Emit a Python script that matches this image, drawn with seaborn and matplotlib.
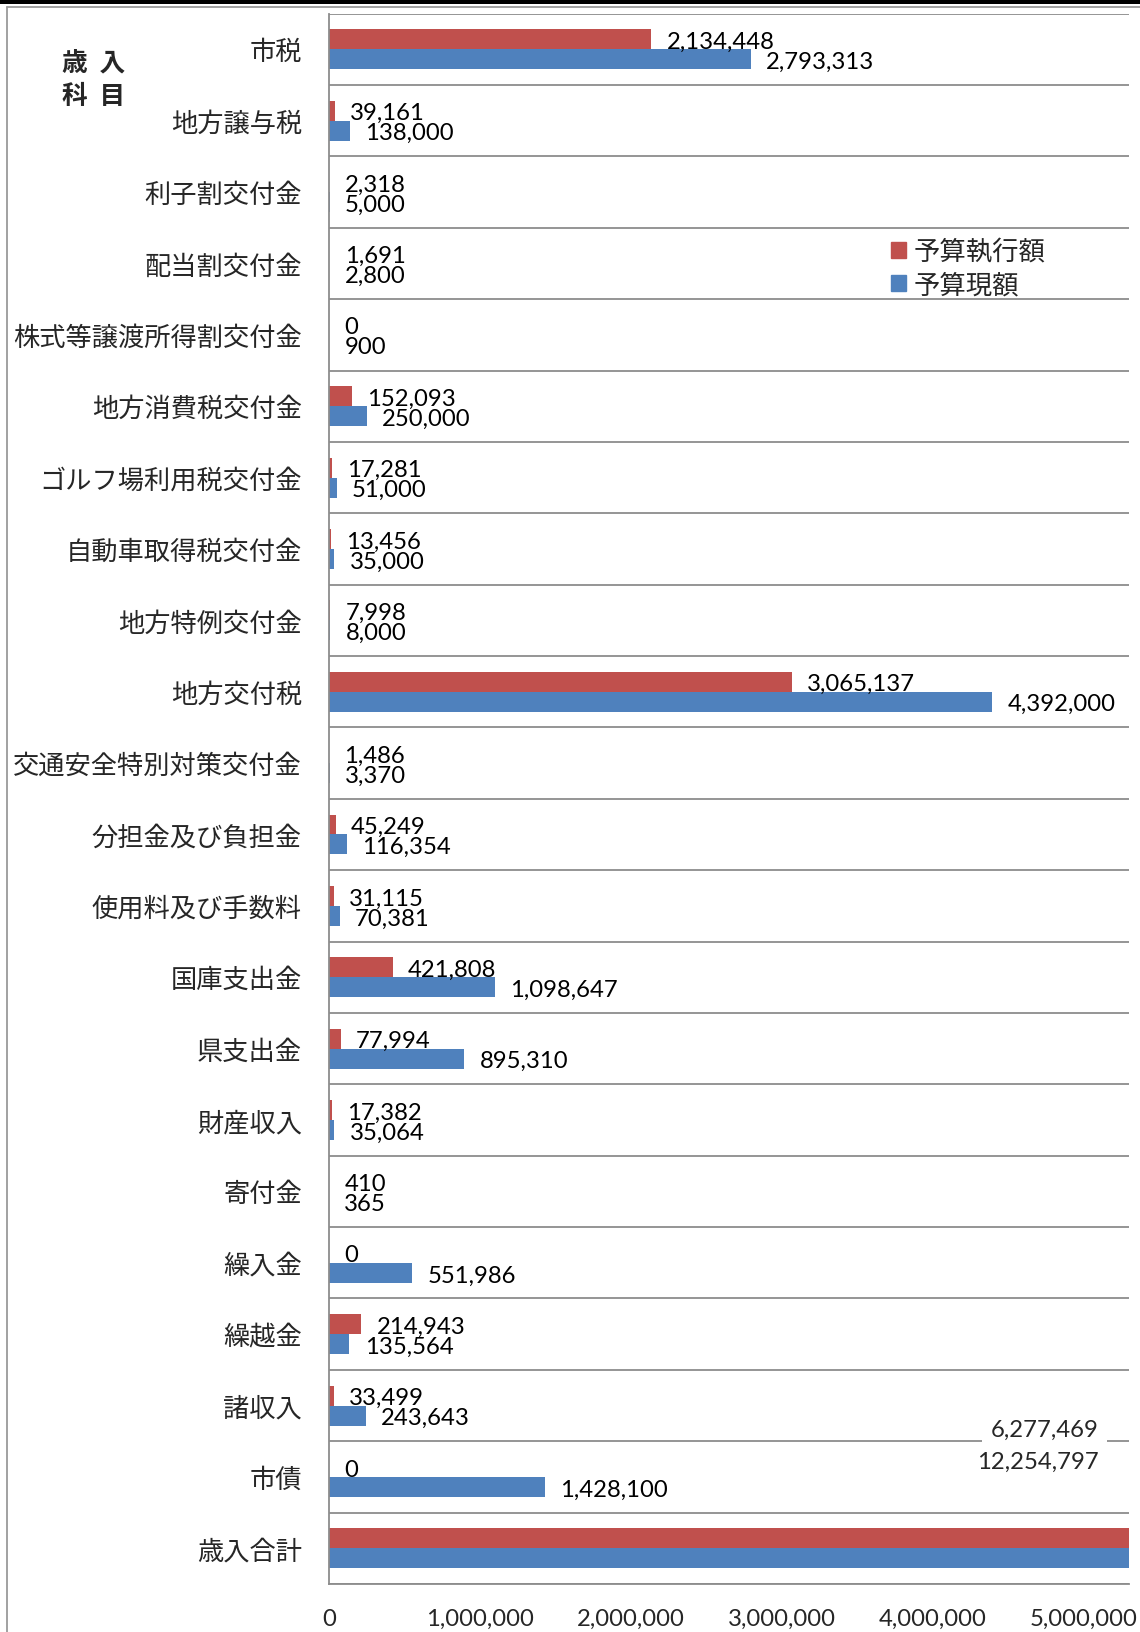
import matplotlib
matplotlib.use("Agg")
import numpy as np
import pandas as pd
import matplotlib.pyplot as plt
import matplotlib.transforms as mtransforms
from matplotlib.lines import Line2D
from matplotlib.patches import Rectangle
import seaborn as sns

# data
categories = ["市税", "地方譲与税", "利子割交付金", "配当割交付金", "株式等譲渡所得割交付金",
              "地方消費税交付金", "ゴルフ場利用税交付金", "自動車取得税交付金", "地方特例交付金",
              "地方交付税", "交通安全特別対策交付金", "分担金及び負担金", "使用料及び手数料",
              "国庫支出金", "県支出金", "財産収入", "寄付金", "繰入金", "繰越金", "諸収入",
              "市債", "歳入合計"]
executed = [2134448, 39161, 2318, 1691, 0, 152093, 17281, 13456, 7998, 3065137, 1486,
            45249, 31115, 421808, 77994, 17382, 410, 0, 214943, 33499, 0, 6277469]
budget = [2793313, 138000, 5000, 2800, 900, 250000, 51000, 35000, 8000, 4392000, 3370,
          116354, 70381, 1098647, 895310, 35064, 365, 551986, 135564, 243643, 1428100, 12254797]
series = ["予算執行額", "予算現額"]
colors = ["#C0504D", "#4F81BD"]
xticks = [0, 1000000, 2000000, 3000000, 4000000, 5000000]
x_max = 5300000

df = pd.DataFrame({
    "科目": categories * 2,
    "区分": [series[0]] * len(categories) + [series[1]] * len(categories),
    "金額": executed + budget,
})

sns.set_style("white")
plt.rcParams["font.family"] = ["Lato", "Noto Sans CJK JP", "DejaVu Sans"]

W, H = 1140, 1633
fig = plt.figure(figsize=(W / 100, H / 100), dpi=100)
ax = fig.add_axes([329 / W, 1 - 1585 / H, 800 / W, (1585 - 14.6) / H])

sns.barplot(data=df, y="科目", x="金額", hue="区分", hue_order=series, order=categories,
            palette=colors, orient="h", width=0.56, saturation=1, linewidth=0,
            legend=False, ax=ax)

ax.set_xlim(0, x_max)
ax.set_ylim(len(categories) - 0.5, -0.5)
ax.set_xlabel("")
ax.set_ylabel("")

# separators between categories
ax.set_yticks(np.arange(len(categories) + 1) - 0.5, minor=True)
ax.grid(False)
ax.grid(axis="y", which="minor", color="#8c8c8c", lw=1.3)
ax.set_axisbelow(True)
ax.tick_params(axis="y", which="major", length=0, pad=19.5, labelsize=18.9)
ax.tick_params(axis="y", which="minor", length=4, color="#8c8c8c", width=1.2, direction="out")

ax.set_xticks(xticks)
ax.set_xticklabels([f"{v:,}" for v in xticks])
ax.tick_params(axis="x", direction="in", length=6, width=1.2, color="#8c8c8c",
               pad=17.5, labelsize=17.2)

for side in ["top", "right"]:
    ax.spines[side].set_visible(False)
for side in ["left", "bottom"]:
    ax.spines[side].set_color("#8c8c8c")
    ax.spines[side].set_linewidth(1.3)

# data labels
last = len(categories) - 1
for cont in ax.containers:
    labels = [f"{p.get_width():,.0f}" for p in cont.patches]
    labels[last] = ""
    anns = ax.bar_label(cont, labels=labels, padding=11, fontsize=17.2, color="black")
    for a in anns:
        a.xyann = (11, -1.5)

# totals overflow the axis: labels sit at the right edge like the original
trans = mtransforms.blended_transform_factory(ax.transAxes, ax.transData)
offsets = [109, 97]
for cont, dy in zip(ax.containers, offsets):
    p = cont.patches[last]
    yc = p.get_y() + p.get_height() / 2
    ax.annotate(f"{p.get_width():,.0f}", xy=(0.962, yc), xycoords=trans,
                xytext=(0, dy), textcoords="offset pixels", ha="right", va="center",
                fontsize=17.2, annotation_clip=False,
                bbox=dict(fc="white", ec="none", pad=6))

# legend
handles = [Rectangle((0, 0), 1, 1, color=c) for c in colors]
fig.legend(handles, series, loc="upper left", bbox_to_anchor=(891 / W, 1 - 240 / H),
           frameon=False, fontsize=19, handlelength=0.55, handleheight=0.55,
           handletextpad=0.3, labelspacing=0.32, borderpad=0, borderaxespad=0)

# header
fig.text(62 / W, 1 - 63 / H, "歳  入", fontsize=18.5, fontweight="bold", va="center",
         family="Noto Sans CJK JP")
fig.text(62 / W, 1 - 97 / H, "科  目", fontsize=18.5, fontweight="bold", va="center",
         family="Noto Sans CJK JP")

# page frame
fig.add_artist(Rectangle((0, 1 - 5 / H), 1, 5 / H, transform=fig.transFigure,
                         color="black", lw=0))
fig.add_artist(Line2D([7 / W, 1], [1 - 8 / H, 1 - 8 / H], transform=fig.transFigure,
                      color="#9a9a9a", lw=1.3))
fig.add_artist(Line2D([7 / W, 7 / W], [0, 1 - 8 / H], transform=fig.transFigure,
                      color="#9a9a9a", lw=1.3))

fig.savefig("out.png", dpi=100)
